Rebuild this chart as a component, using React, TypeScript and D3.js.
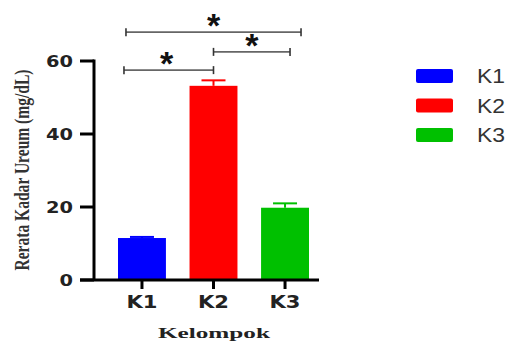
import React from "react";
import * as d3 from "d3";

const categories = ["K1", "K2", "K3"];
const means = [11.5, 53.2, 19.8];
const errors = [0.3, 1.5, 1.2];
const colors = ["#0000ff", "#ff0000", "#00c000"];
const yTicks = [0, 20, 40, 60];
const comparisons: [string, string][] = [["K1", "K3"], ["K2", "K3"], ["K1", "K2"]];
const compLevels = [67.9, 62.5, 57.5];
const compLabels = ["*", "*", "*"];

export default function App() {
  const W = 510, H = 341;
  const y = d3.scaleLinear().domain([0, 60]).range([280, 61]);
  const x = d3.scaleBand<string>().domain(categories).range([94.4, 332.6]).paddingInner(0.33).paddingOuter(0.33);
  const bw = x.bandwidth();
  const cx = (c: string) => (x(c) as number) + bw / 2;
  // bracket end offsets relative to category centres
  const offs: [number, number][] = [[-16, 16], [0, 5], [-18, 0]];
  return (
    <svg width={W} height={H} style={{ position: "absolute", left: 0, top: 0, background: "#fff" }}>
      {/* bars */}
      {categories.map((c, i) => (
        <g key={c}>
          <rect x={x(c)} y={y(means[i])} width={bw} height={y(0) - y(means[i])} fill={colors[i]} />
          <line x1={cx(c)} x2={cx(c)} y1={y(means[i])} y2={y(means[i] + errors[i])} stroke={colors[i]} strokeWidth={2} />
          <line x1={cx(c) - 12} x2={cx(c) + 12} y1={y(means[i] + errors[i])} y2={y(means[i] + errors[i])} stroke={colors[i]} strokeWidth={2} />
        </g>
      ))}
      {/* y axis */}
      <line x1={94} x2={94} y1={y(60) - 1.5} y2={y(0)} stroke="#000" strokeWidth={3} />
      {yTicks.map((t) => (
        <g key={t}>
          <line x1={80} x2={94} y1={y(t)} y2={y(t)} stroke="#000" strokeWidth={3} />
          <text x={73} y={y(t) + 5.5} textAnchor="end" fontFamily="DejaVu Sans, sans-serif" fontWeight="bold" fontSize={15}
            textLength={String(t).length * 13.5} lengthAdjust="spacingAndGlyphs" fill="#222">{t}</text>
        </g>
      ))}
      {/* x axis */}
      <line x1={80} x2={319} y1={y(0)} y2={y(0)} stroke="#000" strokeWidth={3} />
      {categories.map((c) => (
        <g key={c}>
          <line x1={cx(c)} x2={cx(c)} y1={y(0)} y2={y(0) + 9} stroke="#000" strokeWidth={3} />
          <text x={cx(c)} y={308} textAnchor="middle" fontFamily="DejaVu Sans, sans-serif" fontWeight="bold" fontSize={17}
            textLength={31} lengthAdjust="spacingAndGlyphs" fill="#222">{c}</text>
        </g>
      ))}
      {/* axis titles */}
      <text x={214} y={338} textAnchor="middle" fontFamily="Liberation Serif, Times New Roman, serif" fontWeight="bold" fontSize={15}
        textLength={112} lengthAdjust="spacingAndGlyphs" fill="#222">Kelompok</text>
      <text transform="translate(29,170) rotate(-90)" textAnchor="middle" fontFamily="Liberation Serif, Times New Roman, serif" fontWeight="bold" fontSize={20}
        textLength={201} lengthAdjust="spacingAndGlyphs" fill="#333">Rerata Kadar Ureum (mg/dL)</text>
      {/* significance brackets */}
      {comparisons.map(([a, b], i) => {
        const x1 = cx(a) + offs[i][0];
        const x2 = cx(b) + offs[i][1];
        const yy = y(compLevels[i]);
        return (
          <g key={i}>
            <line x1={x1} x2={x2} y1={yy} y2={yy} stroke="#666" strokeWidth={1.6} />
            <line x1={x1} x2={x1} y1={yy - 4} y2={yy + 4} stroke="#333" strokeWidth={1.6} />
            <line x1={x2} x2={x2} y1={yy - 4} y2={yy + 4} stroke="#333" strokeWidth={1.6} />
            <text x={(x1 + x2) / 2 + (i === 2 ? -2 : 0)} y={yy + 5} textAnchor="middle" fontFamily="Liberation Sans, Arial, sans-serif"
              fontWeight="bold" fontSize={34} fill="#111">{compLabels[i]}</text>
          </g>
        );
      })}
      {/* legend */}
      {categories.map((c, i) => (
        <g key={c} transform={`translate(416, ${69 + i * 29.5})`}>
          <rect x={0} y={0} width={37} height={14} rx={2} fill={colors[i]} />
          <text x={61} y={14} fontFamily="Liberation Sans, Arial, sans-serif" fontSize={20} fill="#333"
            textLength={28} lengthAdjust="spacingAndGlyphs">{c}</text>
        </g>
      ))}
    </svg>
  );
}
